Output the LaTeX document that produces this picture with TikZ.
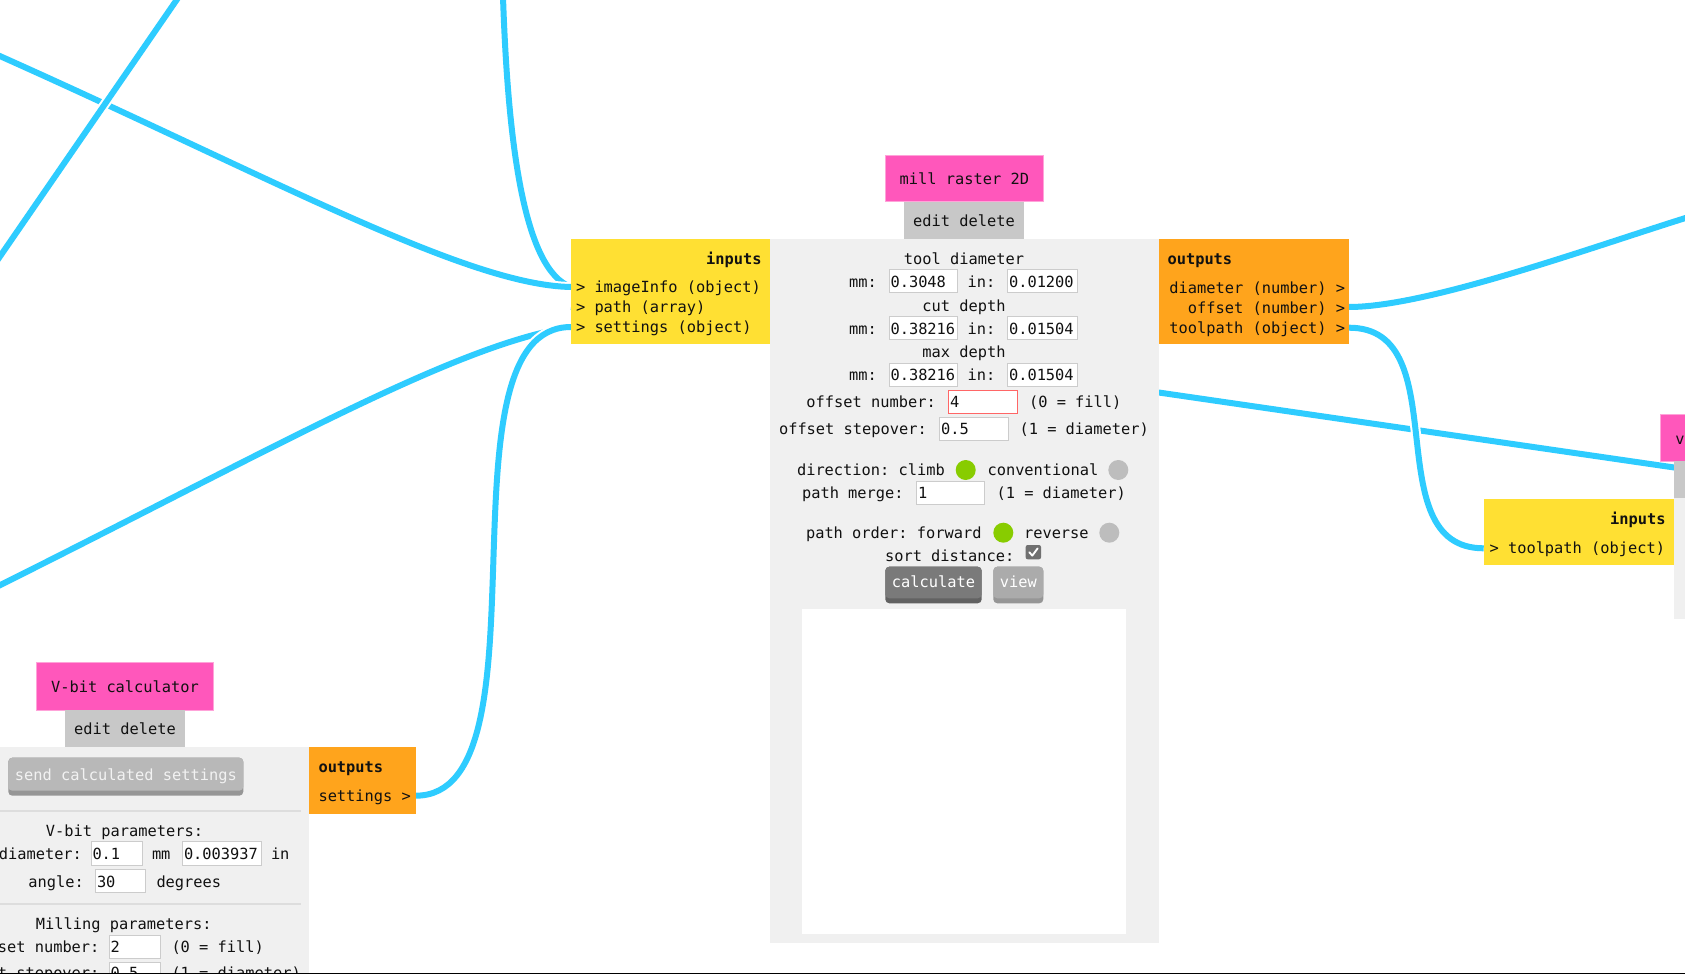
\documentclass[tikz,border=0pt]{standalone}
\usepackage{fontspec}
\setmonofont{DejaVu Sans Mono}
\definecolor{wireblue}{HTML}{2ECCFF}
\definecolor{pinkt}{HTML}{FF57BB}
\definecolor{pinkb}{HTML}{FFA3D9}
\definecolor{editgray}{HTML}{C8C8C8}
\definecolor{panelgray}{HTML}{F0F0F0}
\definecolor{inyellow}{HTML}{FFE033}
\definecolor{outorange}{HTML}{FFA41C}
\definecolor{dotgreen}{HTML}{88CC00}
\definecolor{dotgray}{HTML}{BDBDBD}
\definecolor{fieldline}{HTML}{CCCCCC}
\definecolor{fieldred}{HTML}{FF6666}
\definecolor{sepgray}{HTML}{DDDDDD}
\definecolor{btnA}{HTML}{7A7A7A}
\definecolor{btnAd}{HTML}{626262}
\definecolor{btnB}{HTML}{ABABAB}
\definecolor{btnBd}{HTML}{969696}
\definecolor{chkgray}{HTML}{707070}
\definecolor{txtc}{HTML}{111111}
\newcommand{\ndbox}[6]{\node[#2, minimum width={((#5)-(#3))*0.75pt}, minimum height={((#6)-(#4))*0.75pt}] (#1) at ({((#3)+(#5))/2},{((#4)+(#6))/2}) {};}
\tikzset{
  box/.style={rectangle, inner sep=0pt, outer sep=0pt},
  titlebox/.style={box, fill=pinkt, draw=pinkb, line width=0.75pt},
  editbox/.style={box, fill=editgray},
  panel/.style={box, fill=panelgray},
  canvas/.style={box, fill=white},
  inbox/.style={box, fill=inyellow},
  outbox/.style={box, fill=outorange},
  field/.style={box, fill=white, draw=fieldline, line width=0.75pt},
  redfield/.style={box, fill=white, draw=fieldred, line width=0.75pt},
  txt/.style={font=\ttfamily\fontsize{11.52pt}{14pt}\selectfont, inner sep=0pt, outer sep=0pt, text height=8.25pt, text depth=0pt, text=txtc},
  btxt/.style={txt, font=\ttfamily\bfseries\fontsize{11.52pt}{14pt}\selectfont},
  wtxt/.style={txt, text=white},
  dot/.style={circle, inner sep=0pt, outer sep=0pt, minimum size=15pt},
  wire/.style={draw=wireblue, line width=4.5pt, preaction={draw=white, line width=7.5pt}},
  sep/.style={draw=sepgray, line width=1.5pt}
}
\begin{document}
\begin{tikzpicture}[x=0.75pt, y=-0.75pt]
\path[use as bounding box] (0,0) rectangle (1685,974);
\clip (0,0) rectangle (1685,974);
\fill[white] (0,0) rectangle (1685,974);

% ports and free ends
\coordinate (inImg) at (571,287);
\coordinate (inPath) at (571,307);
\coordinate (inSet) at (571,327);
\coordinate (outOff) at (1349,307);
\coordinate (outTp) at (1349,327.7);
\coordinate (vOut) at (415.7,795.7);
\coordinate (inTp) at (1483.7,548.3);
\coordinate (endA) at (-50,34);
\coordinate (endB1) at (200,-34);
\coordinate (endB2) at (-30,300);
\coordinate (endC) at (502,-40);
\coordinate (endD) at (-40,605);
\coordinate (endF) at (1700,213.5);
\coordinate (endH) at (1800,485.8);

% wires
\draw[wire] (inPath) -- (endH);
\draw[wire] (endC) .. controls (506,150) and (525,270) .. (inImg);
\draw[wire] (endA) .. controls (250,165) and (460,285) .. (inImg);
\draw[wire] (endB1) -- (endB2);
\draw[wire] (endD) .. controls (250,462) and (450,345) .. (inSet);
\draw[wire] (vOut) .. controls (555.7,795.7) and (431,327) .. (inSet);
\draw[wire] (outOff) .. controls (1430,307) and (1600,244) .. (endF);
\draw[wire] (outTp) .. controls (1459,327.7) and (1374,548.3) .. (inTp);

% ---------- mill raster 2D ----------
\ndbox{millPanel}{panel}{770}{239}{1158.7}{942.7}
\ndbox{millCanvas}{canvas}{802}{609}{1126}{933.7}
\ndbox{millTitle}{titlebox}{885.3}{155}{1043.3}{201.7}
\ndbox{millEdit}{editbox}{904}{201.7}{1024}{239}
\ndbox{millIn}{inbox}{571}{239}{770}{344.3}
\ndbox{millOut}{outbox}{1158.7}{239}{1349}{344.3}
\node[txt] (millTitleT) at (964.3,178.5) {mill raster 2D};
\node[txt] (millEditT) at (964,220.5) {edit delete};
\node[btxt, anchor=east] (millInT) at (761.5,259.3) {inputs};
\node[txt, anchor=west] (pImg) at (576,287.3) {> imageInfo (object)};
\node[txt, anchor=west] (pPath) at (576,307.3) {> path (array)};
\node[txt, anchor=west] (pSet) at (576,327.3) {> settings (object)};
\node[btxt, anchor=west] (millOutT) at (1167.5,259) {outputs};
\node[txt, anchor=east] (pDia) at (1345,287.5) {diameter (number) >};
\node[txt, anchor=east] (pOff) at (1345,307.5) {offset (number) >};
\node[txt, anchor=east] (pTp) at (1345,327.5) {toolpath (object) >};

\node[txt] (tdT) at (964,259) {tool diameter};
\node[txt] (cdT) at (964,305.7) {cut depth};
\node[txt] (mdT) at (964,352) {max depth};
% rows of mm / in
\ndbox{f1a}{field}{889}{269.3}{957.3}{292.3}
\ndbox{f1b}{field}{1007.3}{269.3}{1077}{292.3}
\ndbox{f2a}{field}{889}{316.7}{957.3}{339.3}
\ndbox{f2b}{field}{1007.3}{316.7}{1077}{339.3}
\ndbox{f3a}{field}{889}{363.3}{957.3}{386}
\ndbox{f3b}{field}{1007.3}{363.3}{1077}{386}
\node[txt, anchor=west] (mm1) at (849,281.5) {mm:};
\node[txt, anchor=west] (in1) at (967.5,281.5) {in:};
\node[txt, anchor=west] (v1a) at (890.5,281.5) {0.3048};
\node[txt, anchor=west] (v1b) at (1009,281.5) {0.01200};
\node[txt, anchor=west] (mm2) at (849,328.5) {mm:};
\node[txt, anchor=west] (in2) at (967.5,328.5) {in:};
\node[txt, anchor=west] (v2a) at (890.5,328.5) {0.38216};
\node[txt, anchor=west] (v2b) at (1009,328.5) {0.01504};
\node[txt, anchor=west] (mm3) at (849,375) {mm:};
\node[txt, anchor=west] (in3) at (967.5,375) {in:};
\node[txt, anchor=west] (v3a) at (890.5,375) {0.38216};
\node[txt, anchor=west] (v3b) at (1009,375) {0.01504};
% offset number / stepover
\ndbox{fOn}{redfield}{948.3}{390}{1017.7}{413.3}
\node[txt, anchor=west] (onT) at (806.3,402) {offset number:};
\node[txt, anchor=west] (onV) at (950,402) {4};
\node[txt, anchor=west] (onH) at (1029,402) {(0 = fill)};
\ndbox{fSo}{field}{939}{417.3}{1008.3}{440.5}
\node[txt, anchor=west] (soT) at (779,428.7) {offset stepover:};
\node[txt, anchor=west] (soV) at (941,428.7) {0.5};
\node[txt, anchor=west] (soH) at (1019.5,428.7) {(1 = diameter)};
% direction
\node[txt, anchor=west] (dirT) at (797,470) {direction: climb};
\node[dot, fill=dotgreen] (climbDot) at (965.7,470) {};
\node[txt, anchor=west] (convT) at (987.5,470) {conventional};
\node[dot, fill=dotgray] (convDot) at (1118.3,470) {};
% path merge
\ndbox{fPm}{field}{916}{481}{984.3}{504.3}
\node[txt, anchor=west] (pmT) at (802,492.7) {path merge:};
\node[txt, anchor=west] (pmV) at (918,492.7) {1};
\node[txt, anchor=west] (pmH) at (996.5,492.7) {(1 = diameter)};
% path order
\node[txt, anchor=west] (poT) at (806,532.7) {path order: forward};
\node[dot, fill=dotgreen] (fwdDot) at (1003.3,532.7) {};
\node[txt, anchor=west] (revT) at (1024,532.7) {reverse};
\node[dot, fill=dotgray] (revDot) at (1109.3,532.7) {};
% sort distance
\node[txt, anchor=west] (sdT) at (885,555.7) {sort distance:};
\ndbox{sortChk}{box, fill=chkgray, rounded corners=1.5pt}{1025.7}{545}{1041}{559.3}
\draw[white, line width=1.4pt, line cap=round, line join=round] (1029.3,552.3) -- (1032.3,555.6) -- (1037.6,548.4);
% buttons
\fill[btnAd, rounded corners=3pt] (885.3,566.7) rectangle (981.7,603.3);
\fill[btnA, rounded corners=3pt] (885.3,566.7) rectangle (981.7,598.3);
\node[wtxt] (calcT) at (933.5,582.3) {calculate};
\fill[btnBd, rounded corners=3pt] (993.3,566.7) rectangle (1043.3,603.3);
\fill[btnB, rounded corners=3pt] (993.3,566.7) rectangle (1043.3,598.3);
\node[wtxt] (viewT) at (1018.3,582.3) {view};

% ---------- V-bit calculator ----------
\ndbox{vPanel}{panel}{-20}{746.7}{309.3}{990}
\ndbox{vTitle}{titlebox}{36.7}{662.7}{213.3}{710}
\ndbox{vEdit}{editbox}{65}{710}{185}{746.7}
\ndbox{vOutBox}{outbox}{309.3}{747.3}{415.7}{814.3}
\node[txt] (vTitleT) at (125,686.5) {V-bit calculator};
\node[txt] (vEditT) at (125,729) {edit delete};
\node[btxt, anchor=west] (vOutT) at (318.5,766.7) {outputs};
\node[txt, anchor=west] (vSetT) at (318.5,795.7) {settings >};
\fill[btnBd, rounded corners=3pt] (8.3,757.7) rectangle (243.3,795.7);
\fill[btnB!85!white, rounded corners=3pt] (8.3,757.7) rectangle (243.3,790.7);
\node[wtxt, text=white!95!black] (sendT) at (125.8,774.5) {send calculated settings};
\draw[sep] (-10,810.7) -- (300.7,810.7);
\node[txt] (vpT) at (124.5,830.7) {V-bit parameters:};
\ndbox{fVd}{field}{91}{841.7}{142.7}{865}
\ndbox{fVi}{field}{182.3}{841.7}{261}{865}
\node[txt, anchor=east] (vdT) at (82,854) {diameter:};
\node[txt, anchor=west] (vdV) at (92.5,854) {0.1};
\node[txt, anchor=west] (vmmT) at (152,854) {mm};
\node[txt, anchor=west] (viV) at (184,854) {0.003937};
\node[txt, anchor=west] (vinT) at (271,854) {in};
\ndbox{fVa}{field}{95.3}{869}{145.7}{892.3}
\node[txt, anchor=west] (vaT) at (28.5,881.5) {angle:};
\node[txt, anchor=west] (vaV) at (97,881.5) {30};
\node[txt, anchor=west] (vdegT) at (156.5,881.5) {degrees};
\draw[sep] (-10,904) -- (300.7,904);
\node[txt, anchor=west] (mpT) at (36,924) {Milling parameters:};
\ndbox{fVn}{field}{109}{935.7}{160}{958.3}
\node[txt, anchor=east] (vonT) at (99.5,946.7) {offset number:};
\node[txt, anchor=west] (vonV) at (110.7,946.7) {2};
\node[txt, anchor=west] (vonH) at (171.5,946.7) {(0 = fill)};
\ndbox{fVs}{field}{109}{962.3}{160}{985}
\node[txt, anchor=east] (vsoT) at (99.5,972.5) {offset stepover:};
\node[txt, anchor=west] (vsoV) at (110.7,972.5) {0.5};
\node[txt, anchor=west] (vsoH) at (171.5,972.5) {(1 = diameter)};

% ---------- right node ----------
\ndbox{rPanel}{panel}{1673.7}{498.3}{1700}{619.3}
\ndbox{rTitle}{titlebox}{1660.3}{414.3}{1700}{461}
\ndbox{rEdit}{editbox}{1673.7}{461}{1700}{498.3}
\ndbox{rIn}{inbox}{1483.7}{499}{1673.7}{565}
\node[txt] (rTitleT) at (1680,439) {v};
\node[btxt, anchor=east] (rInT) at (1665.5,519) {inputs};
\node[txt, anchor=west] (rTpT) at (1489.5,548.3) {> toolpath (object)};

% bottom edge
\fill[black] (0,972.6) rectangle (1685,974.5);
\end{tikzpicture}
\end{document}
